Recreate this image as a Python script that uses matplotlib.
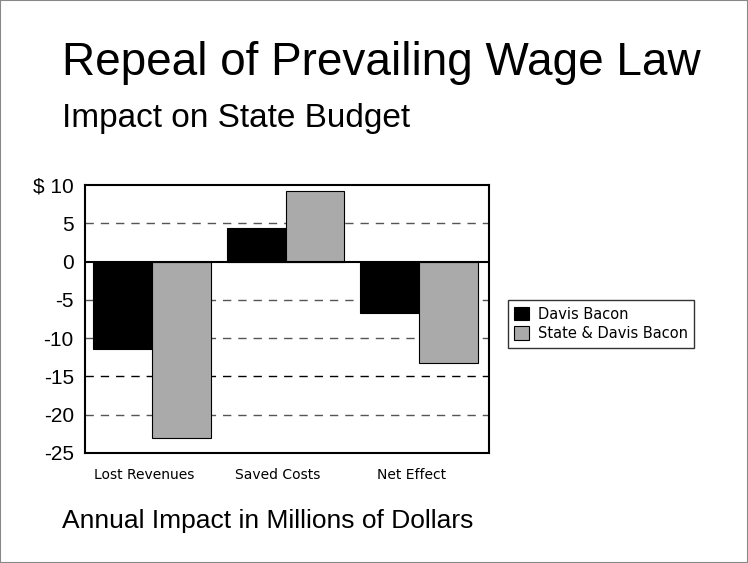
import numpy as np
import matplotlib.pyplot as plt
from matplotlib.patches import Rectangle

# data
categories = ['Lost Revenues', 'Saved Costs', 'Net Effect']
davis_bacon = [-11.4, 4.4, -6.7]
state_davis_bacon = [-23.1, 9.2, -13.2]
series_names = ['Davis Bacon', 'State & Davis Bacon']
yticks = [10, 5, 0, -5, -10, -15, -20, -25]
ytick_labels = ['\\$ 10', '5', '0', '-5', '-10', '-15', '-20', '-25']

fig = plt.figure(figsize=(7.48, 5.63), dpi=100)
fig.patch.set_facecolor('white')

# thin grey border round the whole picture
fig.add_artist(Rectangle((0, 0), 1, 1, transform=fig.transFigure,
                         fill=False, edgecolor='#888888', linewidth=1.5))

ax = fig.add_axes([0.1136, 0.1954, 0.540, 0.476])

x = np.arange(len(categories))
w = 0.44
ax.bar(x - w / 2, davis_bacon, w, color='black', edgecolor='black',
       linewidth=0.8, label=series_names[0], zorder=3)
ax.bar(x + w / 2, state_davis_bacon, w, color='#aaaaaa', edgecolor='black',
       linewidth=0.8, label=series_names[1], zorder=3)

# dashed grid lines, solid zero line
for y in yticks[1:-1]:
    if y == 0:
        ax.axhline(0, color='black', linewidth=1.5, zorder=4)
    else:
        col = 'black' if y == -15 else '#555555'
        ax.axhline(y, color=col, linewidth=1, dashes=(6, 5), zorder=1)

ax.set_xlim(-0.5, 2.52)
ax.set_ylim(-25, 10)
ax.set_yticks(yticks)
ax.set_yticklabels(ytick_labels, fontsize=15, fontfamily='Liberation Sans')
ax.set_xticks(x - 0.06)
ax.set_xticklabels(categories, fontsize=10, fontfamily='DejaVu Sans')
ax.tick_params(axis='y', length=0, pad=8)
ax.tick_params(axis='x', length=0, pad=11)
for s in ax.spines.values():
    s.set_linewidth(1.5)

leg = fig.legend(loc='upper left', bbox_to_anchor=(0.679, 0.467),
                 frameon=True, fancybox=False, edgecolor='black',
                 fontsize=10.5, handlelength=1.0, handleheight=1.0,
                 handletextpad=0.6, borderpad=0.45, labelspacing=0.3,
                 borderaxespad=0)
leg.get_frame().set_linewidth(1)

fig.text(0.083, 0.867, 'Repeal of Prevailing Wage Law', fontsize=33,
         fontfamily='Liberation Sans', va='baseline')
fig.text(0.083, 0.775, 'Impact on State Budget', fontsize=24,
         fontfamily='Liberation Sans', va='baseline')
fig.text(0.083, 0.063, 'Annual Impact in Millions of Dollars', fontsize=19,
         fontfamily='Liberation Sans', va='baseline')

fig.savefig('out.png', dpi=100)
